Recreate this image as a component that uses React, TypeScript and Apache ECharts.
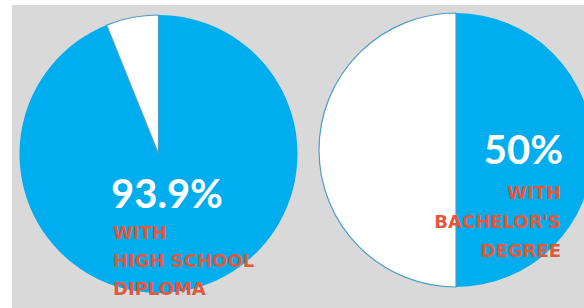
import React, { useEffect, useRef } from "react";
import * as echarts from "echarts";

const pieNames = ["With high school diploma", "With bachelor's degree"];
const highSchoolValues = [93.9, 6.1];
const bachelorValues = [50, 50];
const leftHeadline = "93.9%";
const leftCaption = ["WITH", "HIGH SCHOOL", "DIPLOMA"];
const rightHeadline = "50%";
const rightCaption = ["WITH", "BACHELOR'S", "DEGREE"];

const BLUE = "#00adef";
const WHITE = "#ffffff";
const ORANGE = "#e2583c";
const GRAY = "#d9d9d9";

export default function App() {
  const ref = useRef<HTMLDivElement>(null);
  useEffect(() => {
    if (!ref.current) return;
    const chart = echarts.init(ref.current, null, { renderer: "svg" });
    const mkData = (vals: number[]) =>
      vals.map((v, i) => ({
        value: v,
        itemStyle:
          i === 0
            ? { color: BLUE, borderWidth: 0 }
            : { color: WHITE, borderColor: "#4f9dc9", borderWidth: 1.2 },
      }));
    const headStyle = {
      fill: WHITE,
      fontFamily: "Lato",
      fontWeight: "bold" as const,
      fontSize: 40,
    };
    const capStyle = {
      fill: ORANGE,
      fontFamily: "DejaVu Sans",
      fontWeight: "bold" as const,
      fontSize: 18,
    };
    const leftLinesY = [232, 260, 288];
    const rightLinesY = [192, 221, 250];
    chart.setOption({
      animation: false,
      backgroundColor: "#ffffff",
      graphic: [
        {
          type: "rect",
          z: -10,
          silent: true,
          shape: { x: 12, y: 5, width: 580, height: 310 },
          style: { fill: GRAY },
        },
        {
          type: "text",
          z: 100,
          x: 111,
          y: 193,
          style: { ...headStyle, text: leftHeadline, textAlign: "left", textVerticalAlign: "middle" },
        },
        ...leftCaption.map((t, i) => ({
          type: "text",
          z: 100,
          x: 113,
          y: leftLinesY[i],
          style: { ...capStyle, text: t, textAlign: "left", textVerticalAlign: "middle" },
        })),
        {
          type: "text",
          z: 100,
          x: 563,
          y: 149,
          style: { ...headStyle, text: rightHeadline, textAlign: "right", textVerticalAlign: "middle" },
        },
        ...rightCaption.map((t, i) => ({
          type: "text",
          z: 100,
          x: 561,
          y: rightLinesY[i],
          style: { ...capStyle, text: t, textAlign: "right", textVerticalAlign: "middle" },
        })),
      ],
      series: [
        {
          type: "pie",
          name: pieNames[0],
          center: [158.5, 154],
          radius: 139,
          startAngle: 90,
          clockwise: true,
          silent: true,
          label: { show: false },
          labelLine: { show: false },
          data: mkData(highSchoolValues),
        },
        {
          type: "pie",
          name: pieNames[1],
          center: [456, 150],
          radius: 137,
          startAngle: 90,
          clockwise: true,
          silent: true,
          label: { show: false },
          labelLine: { show: false },
          data: mkData(bachelorValues),
        },
      ],
    });
    return () => chart.dispose();
  }, []);
  return (
    <div
      ref={ref}
      style={{ position: "fixed", left: 0, top: 0, width: 584, height: 308 }}
    />
  );
}
